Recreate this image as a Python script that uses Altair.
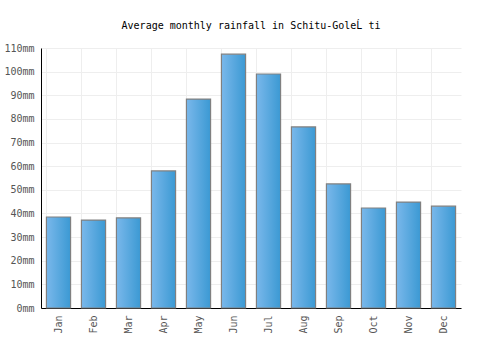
import altair as alt
import pandas as pd

months = ["Jan", "Feb", "Mar", "Apr", "May", "Jun", "Jul", "Aug", "Sep", "Oct", "Nov", "Dec"]
rainfall = [38.5, 37.2, 38.1, 58.0, 88.4, 107.4, 99.0, 76.6, 52.5, 42.3, 44.8, 43.1]

df = pd.DataFrame({"month": months, "rain": rainfall})
FONT = "DejaVu Sans Mono"

chart = alt.Chart(df).mark_bar(
    stroke="#808080", strokeWidth=1.2,
    color=alt.Gradient(
        gradient="linear",
        stops=[alt.GradientStop(color="#7ab8eb", offset=0),
               alt.GradientStop(color="#3b99d3", offset=1)],
        x1=0, x2=1, y1=0, y2=0,
    ),
).encode(
    x=alt.X("month:N", sort=months, title=None,
            scale=alt.Scale(paddingInner=0.31, paddingOuter=0.155),
            axis=alt.Axis(labelAngle=-90, grid=True, bandPosition=0, ticks=False,
                          gridColor="#eeeeee", domainColor="#000000", labelColor="#555555",
                          labelFont=FONT, labelFontSize=10, labelPadding=7)),
    y=alt.Y("rain:Q", title=None,
            scale=alt.Scale(domain=[0, 110], nice=False),
            axis=alt.Axis(values=list(range(0, 111, 10)), labelExpr="datum.value + 'mm'",
                          grid=True, ticks=False, gridColor="#eeeeee", domainColor="#000000",
                          labelColor="#555555", labelFont=FONT, labelFontSize=10, labelPadding=7)),
).properties(
    width=420, height=260,
    title=alt.TitleParams("Average monthly rainfall in Schitu-GoleĹ ti", font=FONT,
                          fontSize=10, fontWeight="normal", color="#000000", offset=12),
    autosize=alt.AutoSizeParams(type="none"),
    padding={"left": 41, "top": 48, "right": 39, "bottom": 42},
).configure_view(stroke=None)

chart.save("out.html", embed_options={"renderer": "svg", "actions": False})
